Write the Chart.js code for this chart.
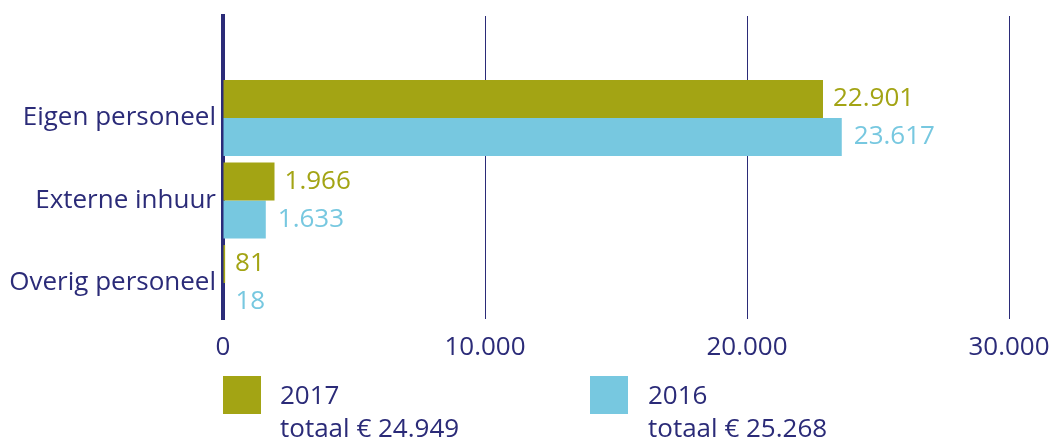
<!DOCTYPE html>
<html><head><meta charset="utf-8">
<script src="https://cdn.jsdelivr.net/npm/chart.js@4.4.1/dist/chart.umd.min.js"></script>
<style>
html,body{margin:0;padding:0;background:#fff;}
#wrap{position:relative;width:1056px;height:444px;overflow:hidden;background:#fff;}
canvas{position:absolute;left:0;top:0;}
.lg{position:absolute;font-family:'Open Sans',sans-serif;font-size:26px;color:#2b2b78;line-height:33px;white-space:nowrap;}
.sw{position:absolute;width:38px;height:38px;}
</style></head><body>
<div id="wrap"><canvas id="c" width="1056" height="444"></canvas><div id="legend"></div></div>
<script>
const categories = ['Eigen personeel', 'Externe inhuur', 'Overig personeel'];
const values2017 = [22901, 1966, 81];
const values2016 = [23617, 1633, 18];
const seriesNames = ['2017', '2016'];
const seriesTotals = ['totaal € 24.949', 'totaal € 25.268'];
const xTicks = [0, 10000, 20000, 30000];

const NAVY = '#2b2b78';
const OLIVE = '#a3a414';
const BLUE = '#77c8e0';
const FONT = {family: "'Open Sans', sans-serif", size: 26};

function fmt(v) { return String(v).replace(/\B(?=(\d{3})+(?!\d))/g, '.'); }

// legend (HTML)
const legendPos = [{sx: 223, tx: 280}, {sx: 590, tx: 648}];
const colors = [OLIVE, BLUE];
const lg = document.getElementById('legend');
seriesNames.forEach((n, i) => {
  const sw = document.createElement('div');
  sw.className = 'sw'; sw.style.left = legendPos[i].sx + 'px'; sw.style.top = '376px'; sw.style.background = colors[i];
  lg.appendChild(sw);
  const t = document.createElement('div');
  t.className = 'lg'; t.style.left = legendPos[i].tx + 'px'; t.style.top = '378px';
  t.innerHTML = n + '<br>' + seriesTotals[i];
  lg.appendChild(t);
});

const valueLabels = {
  id: 'valueLabels',
  afterDatasetsDraw(chart) {
    const ctx = chart.ctx;
    chart.data.datasets.forEach((ds, di) => {
      const meta = chart.getDatasetMeta(di);
      meta.data.forEach((bar, i) => {
        ctx.save();
        ctx.font = FONT.size + 'px ' + FONT.family;
        ctx.fillStyle = ds.backgroundColor;
        ctx.textAlign = 'left';
        ctx.textBaseline = 'middle';
        ctx.fillText(fmt(ds.data[i].x), bar.x + ds.labelGap, bar.y);
        ctx.restore();
      });
    });
  }
};

function draw() {
  new Chart(document.getElementById('c'), {
    type: 'bar',
    data: {
      datasets: [
        {label: seriesNames[0], data: values2017.map((v, i) => ({x: v, y: i})), backgroundColor: OLIVE, labelGap: 10,
         categoryPercentage: 0.92, barPercentage: 1},
        {label: seriesNames[1], data: values2016.map((v, i) => ({x: v, y: i})), backgroundColor: BLUE, labelGap: 12,
         categoryPercentage: 0.92, barPercentage: 1}
      ]
    },
    options: {
      indexAxis: 'y',
      responsive: false,
      animation: false,
      layout: {padding: {top: 16, right: 47, left: 0, bottom: 0}},
      plugins: {legend: {display: false}, tooltip: {enabled: false}},
      scales: {
        x: {
          type: 'linear', min: 0, max: 30000, z: 1, offset: false,
          afterBuildTicks: s => { s.ticks = xTicks.map(v => ({value: v})); },
          afterFit: s => { s.height = 444 - 319; s.paddingLeft = 0; s.paddingRight = 0; },
          grid: {color: NAVY, lineWidth: 1, drawTicks: false, offset: false},
          border: {display: false},
          ticks: {color: NAVY, font: FONT, padding: 13, maxRotation: 0, callback: v => fmt(v)}
        },
        y: {
          type: 'linear', reverse: true, min: -1.236, max: 2.436, z: 1, offset: false,
          afterBuildTicks: s => { s.ticks = categories.map((c, i) => ({value: i})); },
          afterFit: s => { s.width = 223; s.paddingTop = 0; s.paddingBottom = 0; },
          grid: {display: false, drawTicks: false, offset: false},
          border: {display: true, color: NAVY, width: 4},
          ticks: {color: NAVY, font: FONT, padding: 7, callback: v => categories[v]}
        }
      }
    },
    plugins: [valueLabels]
  });
}
document.fonts.load("26px 'Open Sans'").then(draw, draw);
</script>
</body></html>
